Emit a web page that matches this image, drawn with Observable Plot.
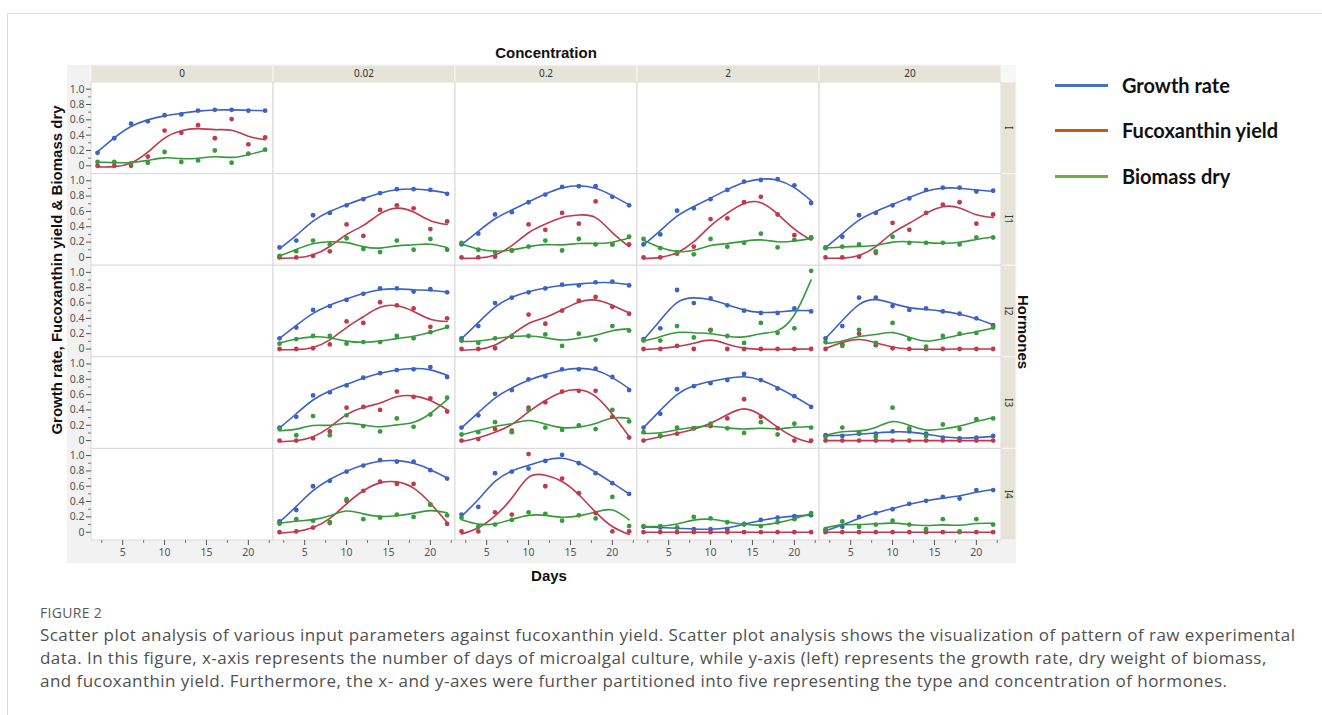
<!DOCTYPE html>
<html>
<head>
<meta charset="utf-8">
<script src="https://cdn.jsdelivr.net/npm/d3@7"></script>
<script src="https://cdn.jsdelivr.net/npm/@observablehq/plot@0.6"></script>
<style>
  html, body { margin: 0; padding: 0; background: #fff; }
  #page { position: relative; width: 1322px; height: 715px; overflow: hidden; }
  #border { position: absolute; left: 7px; top: 13px; right: -2px; bottom: -2px; border-left: 1px solid #dcdcdc; border-top: 1px solid #dcdcdc; }
  #chart { position: absolute; left: 0; top: 0; }
  .leg { position: absolute; left: 1055px; height: 28px; display: flex; align-items: center; font-family: Lato, "Liberation Sans", sans-serif; font-weight: bold; font-size: 20px; color: #111; white-space: nowrap; }
  .leg span.sw { display: inline-block; width: 53px; height: 3px; margin-right: 14px; }
  #caption { position: absolute; left: 40px; top: 602px; font-family: "Open Sans", sans-serif; color: #505050; white-space: nowrap; }
  #caption .fig { font-size: 14px; line-height: 21px; letter-spacing: 0.3px; color: #5a5a5a; }
  #caption .txt { font-size: 17px; line-height: 23px; letter-spacing: 0.45px; }
</style>
</head>
<body>
<div id="page">
  <div id="border"></div>
  <div id="chart"></div>
  <div class="leg" style="top:71px"><span class="sw" style="background:#4472c4"></span>Growth rate</div>
  <div class="leg" style="top:116px"><span class="sw" style="background:#c55a11"></span>Fucoxanthin yield</div>
  <div class="leg" style="top:162px"><span class="sw" style="background:#70ad47"></span>Biomass dry</div>
  <div id="caption">
    <div class="fig">FIGURE 2</div>
    <div class="txt">Scatter plot analysis of various input parameters against fucoxanthin yield. Scatter plot analysis shows the visualization of pattern of raw experimental<br>data. In this figure, x-axis represents the number of days of microalgal culture, while y-axis (left) represents the growth rate, dry weight of biomass,<br>and fucoxanthin yield. Furthermore, the x- and y-axes were further partitioned into five representing the type and concentration of hormones.</div>
  </div>
</div>
<script>
// ---------- data ----------
const days = [2, 4, 6, 8, 10, 12, 14, 16, 18, 20, 22];
const concentrations = ["0", "0.02", "0.2", "2", "20"];
const hormones = ["I", "I1", "I2", "I3", "I4"];
const seriesNames = ["Growth rate", "Fucoxanthin yield", "Biomass dry"];
const seriesColors = ["#3c63c4", "#c0394e", "#379a3c"];
const yTicks = [0, 0.2, 0.4, 0.6, 0.8, 1.0];
const yMinorTicks = [0.1, 0.3, 0.5, 0.7, 0.9];
const xTicks = [5, 10, 15, 20];
const xMinorTicks = [2.5, 7.5, 12.5, 17.5, 22.5];

// Hormone I
const growth_I_0   = [0.17, 0.36, 0.55, 0.58, 0.66, 0.67, 0.72, 0.73, 0.73, 0.72, 0.72];
const fuco_I_0     = [0.00, 0.00, 0.00, 0.12, 0.46, 0.43, 0.53, 0.36, 0.61, 0.28, 0.37];
const biomass_I_0  = [0.05, 0.05, 0.03, 0.04, 0.18, 0.05, 0.07, 0.20, 0.04, 0.16, 0.21];

// Hormone I1
const growth_I1_002  = [0.13, 0.22, 0.55, 0.58, 0.68, 0.76, 0.84, 0.89, 0.89, 0.88, 0.83];
const fuco_I1_002    = [0.00, 0.00, 0.02, 0.08, 0.43, 0.28, 0.62, 0.68, 0.64, 0.37, 0.47];
const biomass_I1_002 = [0.02, 0.08, 0.22, 0.17, 0.25, 0.11, 0.07, 0.22, 0.10, 0.24, 0.10];
const growth_I1_02   = [0.17, 0.31, 0.56, 0.59, 0.72, 0.82, 0.92, 0.93, 0.93, 0.79, 0.68];
const fuco_I1_02     = [0.00, 0.00, 0.01, 0.09, 0.43, 0.36, 0.58, 0.44, 0.73, 0.17, 0.17];
const biomass_I1_02  = [0.19, 0.10, 0.07, 0.09, 0.14, 0.22, 0.09, 0.24, 0.17, 0.17, 0.27];
const growth_I1_2    = [0.17, 0.30, 0.61, 0.64, 0.76, 0.88, 0.99, 1.01, 1.02, 0.94, 0.71];
const fuco_I1_2      = [0.00, 0.00, 0.05, 0.14, 0.50, 0.51, 0.72, 0.79, 0.56, 0.29, 0.26];
const biomass_I1_2   = [0.24, 0.12, 0.07, 0.04, 0.24, 0.14, 0.19, 0.31, 0.13, 0.23, 0.25];
const growth_I1_20   = [0.13, 0.27, 0.55, 0.58, 0.68, 0.77, 0.88, 0.91, 0.91, 0.86, 0.87];
const fuco_I1_20     = [0.00, 0.00, 0.01, 0.06, 0.45, 0.36, 0.58, 0.69, 0.72, 0.44, 0.56];
const biomass_I1_20  = [0.12, 0.14, 0.17, 0.08, 0.27, 0.19, 0.19, 0.19, 0.17, 0.26, 0.26];

// Hormone I2
const growth_I2_002  = [0.14, 0.28, 0.51, 0.56, 0.64, 0.72, 0.79, 0.79, 0.75, 0.78, 0.74];
const fuco_I2_002    = [0.00, 0.00, 0.01, 0.06, 0.36, 0.34, 0.61, 0.57, 0.53, 0.29, 0.40];
const biomass_I2_002 = [0.07, 0.13, 0.17, 0.17, 0.07, 0.09, 0.09, 0.17, 0.14, 0.22, 0.29];
const growth_I2_02   = [0.14, 0.30, 0.60, 0.67, 0.74, 0.79, 0.84, 0.83, 0.87, 0.88, 0.83];
const fuco_I2_02     = [0.00, 0.00, 0.01, 0.16, 0.45, 0.33, 0.50, 0.63, 0.68, 0.55, 0.46];
const biomass_I2_02  = [0.11, 0.08, 0.14, 0.17, 0.17, 0.19, 0.04, 0.20, 0.12, 0.30, 0.24];
const growth_I2_2    = [0.13, 0.27, 0.77, 0.60, 0.66, 0.57, 0.50, 0.47, 0.47, 0.53, 0.49];
const fuco_I2_2      = [0.00, 0.00, 0.04, 0.00, 0.25, 0.00, 0.00, 0.00, 0.00, 0.00, 0.00];
const biomass_I2_2   = [0.11, 0.11, 0.30, 0.15, 0.24, 0.17, 0.08, 0.34, 0.21, 0.27, 1.02];
const growth_I2_20   = [0.14, 0.30, 0.67, 0.67, 0.56, 0.51, 0.53, 0.49, 0.46, 0.40, 0.31];
const fuco_I2_20     = [0.00, 0.06, 0.20, 0.05, 0.01, 0.00, 0.00, 0.00, 0.00, 0.00, 0.00];
const biomass_I2_20  = [0.09, 0.04, 0.25, 0.08, 0.34, 0.13, 0.03, 0.17, 0.20, 0.21, 0.28];

// Hormone I3
const growth_I3_002  = [0.17, 0.31, 0.59, 0.63, 0.72, 0.82, 0.88, 0.92, 0.93, 0.96, 0.83];
const fuco_I3_002    = [0.00, 0.00, 0.03, 0.12, 0.43, 0.44, 0.40, 0.64, 0.57, 0.55, 0.38];
const biomass_I3_002 = [0.15, 0.07, 0.32, 0.07, 0.33, 0.19, 0.12, 0.29, 0.18, 0.34, 0.56];
const growth_I3_02   = [0.17, 0.33, 0.61, 0.66, 0.80, 0.84, 0.93, 0.93, 0.94, 0.83, 0.66];
const fuco_I3_02     = [0.00, 0.02, 0.15, 0.13, 0.43, 0.50, 0.64, 0.65, 0.65, 0.31, 0.04];
const biomass_I3_02  = [0.08, 0.11, 0.24, 0.11, 0.40, 0.17, 0.14, 0.20, 0.15, 0.40, 0.25];
const growth_I3_2    = [0.17, 0.35, 0.67, 0.71, 0.75, 0.79, 0.87, 0.79, 0.68, 0.58, 0.44];
const fuco_I3_2      = [0.00, 0.06, 0.09, 0.16, 0.19, 0.29, 0.54, 0.31, 0.16, 0.00, 0.00];
const biomass_I3_2   = [0.11, 0.06, 0.17, 0.16, 0.22, 0.16, 0.10, 0.24, 0.08, 0.22, 0.17];
const growth_I3_20   = [0.07, 0.06, 0.09, 0.09, 0.12, 0.12, 0.09, 0.04, 0.03, 0.04, 0.06];
const fuco_I3_20     = [0.00, 0.00, 0.00, 0.00, 0.00, 0.00, 0.00, 0.00, 0.00, 0.00, 0.00];
const biomass_I3_20  = [0.05, 0.17, 0.11, 0.05, 0.43, 0.16, 0.06, 0.21, 0.15, 0.28, 0.29];

// Hormone I4
const growth_I4_002  = [0.14, 0.29, 0.60, 0.67, 0.79, 0.87, 0.94, 0.92, 0.92, 0.81, 0.70];
const fuco_I4_002    = [0.00, 0.01, 0.06, 0.12, 0.41, 0.54, 0.66, 0.63, 0.63, 0.36, 0.11];
const biomass_I4_002 = [0.11, 0.17, 0.15, 0.13, 0.43, 0.17, 0.19, 0.23, 0.20, 0.36, 0.22];
const growth_I4_02   = [0.23, 0.33, 0.77, 0.79, 0.83, 0.93, 1.01, 0.90, 0.77, 0.64, 0.50];
const fuco_I4_02     = [0.01, 0.01, 0.26, 0.23, 1.02, 0.60, 0.70, 0.51, 0.25, 0.01, 0.01];
const biomass_I4_02  = [0.19, 0.07, 0.10, 0.16, 0.26, 0.24, 0.15, 0.22, 0.18, 0.46, 0.08];
const growth_I4_2    = [0.07, 0.06, 0.06, 0.04, 0.04, 0.04, 0.11, 0.16, 0.19, 0.21, 0.22];
const fuco_I4_2      = [0.00, 0.00, 0.00, 0.00, 0.00, 0.00, 0.00, 0.00, 0.00, 0.00, 0.00];
const biomass_I4_2   = [0.08, 0.08, 0.06, 0.20, 0.18, 0.13, 0.10, 0.08, 0.13, 0.17, 0.25];
const growth_I4_20   = [0.03, 0.07, 0.20, 0.25, 0.30, 0.37, 0.41, 0.46, 0.44, 0.55, 0.55];
const fuco_I4_20     = [0.00, 0.00, 0.00, 0.00, 0.00, 0.00, 0.00, 0.00, 0.00, 0.00, 0.00];
const biomass_I4_20  = [0.04, 0.14, 0.07, 0.10, 0.15, 0.10, 0.04, 0.17, 0.01, 0.17, 0.10];

// table of panels built from the arrays above
const panels = [
  ["I", "0", growth_I_0, fuco_I_0, biomass_I_0],
  ["I1", "0.02", growth_I1_002, fuco_I1_002, biomass_I1_002],
  ["I1", "0.2", growth_I1_02, fuco_I1_02, biomass_I1_02],
  ["I1", "2", growth_I1_2, fuco_I1_2, biomass_I1_2],
  ["I1", "20", growth_I1_20, fuco_I1_20, biomass_I1_20],
  ["I2", "0.02", growth_I2_002, fuco_I2_002, biomass_I2_002],
  ["I2", "0.2", growth_I2_02, fuco_I2_02, biomass_I2_02],
  ["I2", "2", growth_I2_2, fuco_I2_2, biomass_I2_2],
  ["I2", "20", growth_I2_20, fuco_I2_20, biomass_I2_20],
  ["I3", "0.02", growth_I3_002, fuco_I3_002, biomass_I3_002],
  ["I3", "0.2", growth_I3_02, fuco_I3_02, biomass_I3_02],
  ["I3", "2", growth_I3_2, fuco_I3_2, biomass_I3_2],
  ["I3", "20", growth_I3_20, fuco_I3_20, biomass_I3_20],
  ["I4", "0.02", growth_I4_002, fuco_I4_002, biomass_I4_002],
  ["I4", "0.2", growth_I4_02, fuco_I4_02, biomass_I4_02],
  ["I4", "2", growth_I4_2, fuco_I4_2, biomass_I4_2],
  ["I4", "20", growth_I4_20, fuco_I4_20, biomass_I4_20]
];

// ---------- cubic smoothing spline (Reinsch) ----------
function solve(A, b) {
  const n = b.length;
  const M = A.map((r, i) => [...r, b[i]]);
  for (let c = 0; c < n; ++c) {
    let p = c;
    for (let r = c + 1; r < n; ++r) if (Math.abs(M[r][c]) > Math.abs(M[p][c])) p = r;
    [M[c], M[p]] = [M[p], M[c]];
    for (let r = c + 1; r < n; ++r) {
      const f = M[r][c] / M[c][c];
      for (let k = c; k <= n; ++k) M[r][k] -= f * M[c][k];
    }
  }
  const x = new Array(n).fill(0);
  for (let r = n - 1; r >= 0; --r) {
    let s = M[r][n];
    for (let k = r + 1; k < n; ++k) s -= M[r][k] * x[k];
    x[r] = s / M[r][r];
  }
  return x;
}
function smoothingSpline(xs, ys, alpha) {
  const n = xs.length, m = n - 2;
  const h = d3.range(n - 1).map(i => xs[i + 1] - xs[i]);
  const Q = Array.from({length: n}, () => new Array(m).fill(0));
  const R = Array.from({length: m}, () => new Array(m).fill(0));
  for (let j = 1; j <= m; ++j) {
    Q[j - 1][j - 1] = 1 / h[j - 1];
    Q[j][j - 1] = -1 / h[j - 1] - 1 / h[j];
    Q[j + 1][j - 1] = 1 / h[j];
    R[j - 1][j - 1] = (h[j - 1] + h[j]) / 3;
    if (j < m) { R[j - 1][j] = h[j] / 6; R[j][j - 1] = h[j] / 6; }
  }
  const A = R.map((row, i) => row.map((v, j) => v + alpha * d3.sum(Q, q => q[i] * q[j])));
  const b = d3.range(m).map(i => d3.sum(Q, (q, k) => q[i] * ys[k]));
  const gamma = solve(A, b);
  return ys.map((y, k) => y - alpha * d3.sum(gamma, (g, i) => Q[k][i] * g));
}
const SMOOTH = 2.8;

const points = [];
const fits = [];
for (const [hormone, conc, ...vals] of panels) {
  vals.forEach((arr, s) => {
    const fitted = smoothingSpline(days, arr, SMOOTH);
    arr.forEach((v, i) => {
      points.push({hormone, conc, series: seriesNames[s], day: days[i], value: v});
      fits.push({hormone, conc, series: seriesNames[s], day: days[i], value: fitted[i]});
    });
  });
}
const cells = hormones.flatMap(h => concentrations.map(c => ({hormone: h, conc: c})));

// ---------- plot ----------
const plot = Plot.plot({
  width: 1322,
  height: 596,
  marginLeft: 91,
  marginRight: 321,
  marginTop: 82,
  marginBottom: 56,
  style: {fontFamily: "'Noto Sans', 'DejaVu Sans', sans-serif", fontSize: "10.5px", background: "transparent", overflow: "visible"},
  x: {domain: [1.28, 23.0], label: null},
  y: {domain: [-0.108, 1.087], label: null},
  fx: {domain: concentrations, padding: 0, round: false, axis: null, label: null},
  fy: {domain: hormones, padding: 0, round: false, axis: null, label: null},
  color: {domain: seriesNames, range: seriesColors},
  marks: [
    Plot.rect(cells, {fx: "conc", fy: "hormone", fill: "white", stroke: "#d9d9d9", strokeWidth: 1}),
    Plot.axisY({ticks: yTicks, tickFormat: d => d === 0 ? "0" : d3.format(".1f")(d), tickSize: 5, tickPadding: 2, facetAnchor: "left", color: "#555", label: null}),
    Plot.axisY({ticks: yMinorTicks, tickFormat: () => "", tickSize: 3, facetAnchor: "left", color: "#777", label: null}),
    Plot.axisX({ticks: xTicks, tickFormat: d => String(d), tickSize: 5, tickPadding: 3, facetAnchor: "bottom", color: "#555", label: null}),
    Plot.axisX({ticks: xMinorTicks, tickFormat: () => "", tickSize: 3, facetAnchor: "bottom", color: "#777", label: null}),
    Plot.line(fits, {x: "day", y: "value", z: "series", stroke: "series", fx: "conc", fy: "hormone", curve: "natural", strokeWidth: 1.6}),
    Plot.dot(points, {x: "day", y: "value", fill: "series", fx: "conc", fy: "hormone", r: 2.4})
  ]
});

// ---------- decorations: frame background, strips, titles ----------
const svg = d3.select(plot);
const fxS = plot.scale("fx"), fyS = plot.scale("fy");
const bwx = fxS.bandwidth, bwy = fyS.bandwidth;
const gridL = fxS.apply(concentrations[0]), gridR = fxS.apply(concentrations[4]) + bwx;
const gridT = fyS.apply(hormones[0]), gridB = fyS.apply(hormones[4]) + bwy;
const deco = svg.insert("g", ":first-child");
deco.append("rect").attr("x", 67).attr("y", gridT - 17).attr("width", gridR + 15 - 67).attr("height", gridB - gridT + 17 + 23).attr("fill", "#f2f2f2");
deco.append("rect").attr("x", gridR).attr("y", gridT - 17).attr("width", 15).attr("height", 17).attr("fill", "#f7f7f7");
for (const c of concentrations) {
  const x0 = fxS.apply(c);
  deco.append("rect").attr("x", x0).attr("y", gridT - 17).attr("width", bwx).attr("height", 17)
    .attr("fill", "#e6e4d8").attr("stroke", "#f8f8f4").attr("stroke-width", 1);
  deco.append("text").attr("x", x0 + bwx / 2).attr("y", gridT - 8.5).attr("dy", "0.35em")
    .attr("text-anchor", "middle").attr("fill", "#333").attr("font-size", 10).text(c);
}
for (const h of hormones) {
  const y0 = fyS.apply(h);
  deco.append("rect").attr("x", gridR).attr("y", y0).attr("width", 15).attr("height", bwy)
    .attr("fill", "#e6e4d8").attr("stroke", "#f8f8f4").attr("stroke-width", 1);
  deco.append("text").attr("transform", `translate(${gridR + 7.5},${y0 + bwy / 2}) rotate(90)`)
    .attr("dy", "0.35em").attr("text-anchor", "middle").attr("fill", "#333").attr("font-size", 10).text(h);
}
const titles = svg.append("g").attr("font-family", "'Liberation Sans', Arial, sans-serif").attr("font-weight", "bold").attr("font-size", 15).attr("fill", "#111");
titles.append("text").attr("x", (gridL + gridR) / 2).attr("y", 58).attr("text-anchor", "middle").text("Concentration");
titles.append("text").attr("x", (gridL + gridR) / 2 + 3).attr("y", 581).attr("text-anchor", "middle").text("Days");
titles.append("text").attr("transform", "translate(57,270) rotate(-90)").attr("dy", "0.35em").attr("text-anchor", "middle").text("Growth rate, Fucoxanthin yield & Biomass dry");
titles.append("text").attr("transform", `translate(${gridR + 22},332) rotate(90)`).attr("dy", "0.35em").attr("text-anchor", "middle").text("Hormones");

document.getElementById("chart").append(plot);
</script>
</body>
</html>
